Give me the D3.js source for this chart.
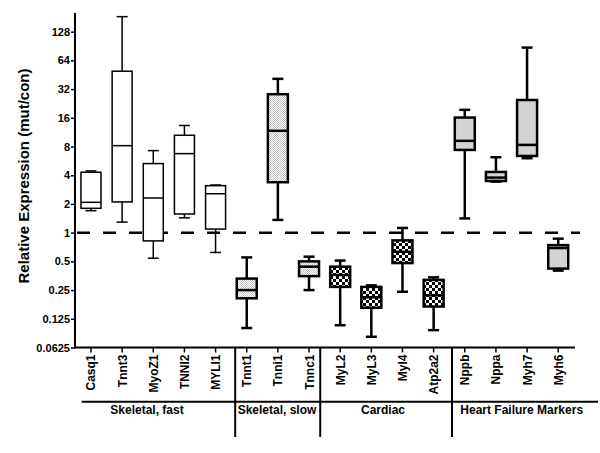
<!DOCTYPE html>
<html>
<head>
<meta charset="utf-8">
<script src="https://cdn.jsdelivr.net/npm/d3@7"></script>
<style>
  html, body { margin: 0; padding: 0; background: #fff; }
  svg { display: block; }
  text { font-family: "Liberation Sans", Arial, sans-serif; font-weight: bold; fill: #000; }
</style>
</head>
<body>
<svg id="chart" width="600" height="453"></svg>
<script>
// ---- data ----
const categories = ["Casq1","Tnnt3","MyoZ1","TNNI2","MYLI1","Tnnt1","Tnni1","Tnnc1","MyL2","MyL3","Myl4","Atp2a2","Nppb","Nppa","Myh7","Myh6"];
const groupOf   = ["fast","fast","fast","fast","fast","slow","slow","slow","card","card","card","card","hf","hf","hf","hf"];
const minVals    = [1.70, 1.29, 0.54, 1.43, 0.62, 0.10, 1.36, 0.25, 0.107, 0.081, 0.24, 0.095, 1.41, 3.43, 6.03, 0.40];
const q1Vals     = [1.80, 2.10, 0.82, 1.57, 1.09, 0.205, 3.38, 0.35, 0.27, 0.163, 0.48, 0.168, 7.37, 3.48, 6.37, 0.42];
const medianVals = [2.08, 8.17, 2.31, 6.74, 2.56, 0.25, 11.7, 0.44, 0.36, 0.21, 0.63, 0.22, 9.17, 3.78, 8.32, 0.69];
const q3Vals     = [4.30, 49.3, 5.30, 10.5, 3.11, 0.33, 28.3, 0.50, 0.44, 0.27, 0.83, 0.32, 16.1, 4.33, 24.6, 0.74];
const maxVals    = [4.44, 184, 7.25, 13.3, 3.16, 0.55, 41.0, 0.56, 0.51, 0.28, 1.12, 0.34, 19.4, 6.18, 87.2, 0.865];
const yTickValues = [0.0625, 0.125, 0.25, 0.5, 1, 2, 4, 8, 16, 32, 64, 128];
const yTickLabels = ["0.0625","0.125","0.25","0.5","1","2","4","8","16","32","64","128"];
const groupNames = ["Skeletal, fast","Skeletal, slow","Cardiac","Heart Failure Markers"];
const groupFirst = ["Casq1","Tnnt1","MyL2","Nppb"];
const groupLast  = ["MYLI1","Tnnc1","Atp2a2","Myh6"];
const dividerFrac = [0.63, 0.36, 0.59]; // position between last of one group and first of next
const refLine = 1;

// ---- layout ----
const svg = d3.select("#chart");
const x = d3.scaleBand().domain(categories).range([75.4, 573.8]).padding(0);
const y = d3.scaleLog().base(2).domain([0.0625, 201]).range([347.5, 13]);
const cx = c => x(c) + x.bandwidth() / 2;

// patterns
const defs = svg.append("defs");
const stip = defs.append("pattern").attr("id","stipple").attr("patternUnits","userSpaceOnUse").attr("width",2).attr("height",2);
stip.append("rect").attr("width",2).attr("height",2).attr("fill","#fff");
stip.append("rect").attr("x",0).attr("y",0).attr("width",1).attr("height",1).attr("fill","#c4c4c4");
stip.append("rect").attr("x",1).attr("y",1).attr("width",1).attr("height",1).attr("fill","#c4c4c4");
const chk = defs.append("pattern").attr("id","checker").attr("patternUnits","userSpaceOnUse").attr("width",6).attr("height",6);
chk.append("rect").attr("width",6).attr("height",6).attr("fill","#fff");
chk.append("rect").attr("x",0).attr("y",0).attr("width",3).attr("height",3).attr("fill","#000");
chk.append("rect").attr("x",3).attr("y",3).attr("width",3).attr("height",3).attr("fill","#000");

const fillOf = { fast: "#fff", slow: "url(#stipple)", card: "url(#checker)", hf: "#d4d4d4" };
const strokeW = { fast: 1.5, slow: 2.5, card: 2.5, hf: 2.5 };

// y axis
const yAxis = d3.axisLeft(y).tickValues(yTickValues).tickSize(4)
  .tickFormat((d, i) => yTickLabels[i]);
const gy = svg.append("g").attr("transform","translate(75,0)").call(yAxis);
gy.select(".domain").remove();
gy.selectAll(".tick line").attr("stroke","#000").attr("stroke-width",1.5);
gy.selectAll(".tick text").attr("font-size",11).attr("x",-5).style("font-family","'Liberation Sans', Arial, sans-serif").style("font-weight","bold");
svg.append("line").attr("x1",75).attr("x2",75).attr("y1",13).attr("y2",y(0.0625)+0.8)
  .attr("stroke","#000").attr("stroke-width",2);

// x axis
const xAxis = d3.axisBottom(x).tickSize(5).tickFormat("");
const gx = svg.append("g").attr("transform",`translate(0,${y(0.0625)})`).call(xAxis);
gx.select(".domain").remove();
gx.selectAll(".tick line").attr("stroke","#000").attr("stroke-width",1.5);
svg.append("line").attr("x1",74).attr("x2",575).attr("y1",y(0.0625)).attr("y2",y(0.0625))
  .attr("stroke","#000").attr("stroke-width",2);

// category labels
svg.selectAll("text.cat").data(categories).enter().append("text")
  .attr("class","cat")
  .attr("transform", d => `translate(${cx(d)+4.5},${y(0.0625)+7}) rotate(-90)`)
  .attr("text-anchor","end")
  .attr("font-size",12)
  .text(d => d);

// reference dashed line
svg.append("line").attr("x1",77).attr("x2",580).attr("y1",y(refLine)).attr("y2",y(refLine))
  .attr("stroke","#000").attr("stroke-width",2.5).attr("stroke-dasharray","13,13");

// boxes
const bw = 20, capW = 11;
const boxes = svg.append("g").selectAll("g").data(categories).enter().append("g");
boxes.each(function(c, i) {
  const g = d3.select(this);
  const g0 = groupOf[i];
  const sw = strokeW[g0];
  const xc = cx(c);
  // whiskers
  g.append("line").attr("x1",xc).attr("x2",xc).attr("y1",y(maxVals[i])).attr("y2",y(q3Vals[i]))
    .attr("stroke","#000").attr("stroke-width",sw);
  g.append("line").attr("x1",xc).attr("x2",xc).attr("y1",y(q1Vals[i])).attr("y2",y(minVals[i]))
    .attr("stroke","#000").attr("stroke-width",sw);
  g.append("line").attr("x1",xc-capW/2).attr("x2",xc+capW/2).attr("y1",y(maxVals[i])).attr("y2",y(maxVals[i]))
    .attr("stroke","#000").attr("stroke-width",sw);
  g.append("line").attr("x1",xc-capW/2).attr("x2",xc+capW/2).attr("y1",y(minVals[i])).attr("y2",y(minVals[i]))
    .attr("stroke","#000").attr("stroke-width",sw);
  // box
  g.append("rect").attr("x",xc-bw/2).attr("width",bw)
    .attr("y",y(q3Vals[i])).attr("height",y(q1Vals[i])-y(q3Vals[i]))
    .attr("fill",fillOf[g0]).attr("stroke","#000").attr("stroke-width",sw);
  // median
  g.append("line").attr("x1",xc-bw/2).attr("x2",xc+bw/2).attr("y1",y(medianVals[i])).attr("y2",y(medianVals[i]))
    .attr("stroke","#000").attr("stroke-width",sw);
});

// group underline and dividers
const lineY = 401.7;
svg.append("line").attr("x1",81.7).attr("x2",598).attr("y1",lineY).attr("y2",lineY)
  .attr("stroke","#000").attr("stroke-width",2);
for (let k = 0; k < 3; k++) {
  const a = cx(groupLast[k]), b = cx(groupFirst[k+1]);
  const xd = a + (b - a) * dividerFrac[k];
  svg.append("line").attr("x1",xd).attr("x2",xd).attr("y1",y(0.0625)).attr("y2",437)
    .attr("stroke","#000").attr("stroke-width",2);
}
// group labels
const groupCenters = [147, 277, 383, 521.7];
svg.selectAll("text.grp").data(groupNames).enter().append("text")
  .attr("class","grp")
  .attr("x",(d,i) => groupCenters[i])
  .attr("y",414)
  .attr("text-anchor","middle")
  .attr("font-size",12)
  .text(d => d);

// y title
svg.append("text")
  .attr("transform",`translate(29,176) rotate(-90)`)
  .attr("text-anchor","middle")
  .attr("font-size",15)
  .text("Relative Expression (mut/con)");
</script>
</body>
</html>
